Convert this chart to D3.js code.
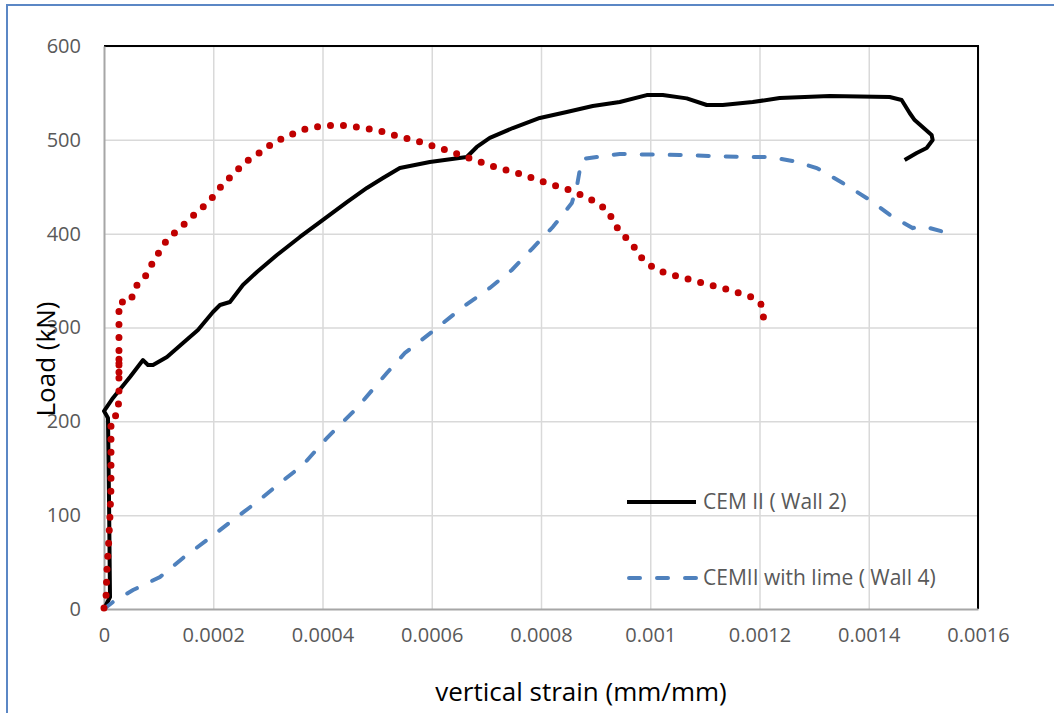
<!DOCTYPE html>
<html>
<head>
<meta charset="utf-8">
<script src="https://cdn.jsdelivr.net/npm/d3@7"></script>
<style>
  body { margin: 0; background: #fff; }
  svg text { font-family: "Open Sans", "Noto Sans", sans-serif; }
</style>
</head>
<body>
<script>
// CEM II ( Wall 2)
var wall2Strain = [0, 0.000011, 0.0000092, 0.0000073, 0, 0.0000165, 0.0000476, 0.0000714, 0.0000805, 0.0000897,
  0.0001153, 0.0001446, 0.000172, 0.0001995, 0.0002123, 0.0002306, 0.0002543, 0.00028, 0.0003166, 0.0003587,
  0.0003953, 0.0004447, 0.0004813, 0.0005100, 0.0005416, 0.0005965, 0.0006642, 0.0006825, 0.0007063, 0.0007484, 0.0007978,
  0.0008472, 0.0008948, 0.0009442, 0.0009936, 0.0010229, 0.0010668, 0.0011034, 0.0011327, 0.0011876, 0.001237,
  0.0013285, 0.0014383, 0.0014602, 0.0014749, 0.001484, 0.0015151, 0.001517, 0.001506, 0.0014877, 0.0014657];
var wall2Load = [0, 12.8, 116, 203.5, 211, 224.9, 247.2, 265.3, 260, 260,
  268.6, 283.5, 297.3, 316.5, 324, 327.2, 345.3, 359.2, 377.3, 396.5,
  412.4, 433.7, 448.7, 459, 470, 476.4, 481.7, 492.4, 502, 512.6, 523.3,
  529.7, 536, 540.3, 547.7, 547.7, 544.2, 537.1, 537.1, 540.3, 544.5,
  546.7, 545.6, 542.4, 528.6, 521.1, 505.2, 499.8, 491.3, 486, 478.5];

// CEMII with lime ( Wall 4)
var wall4Strain = [0, 0.0000165, 0.0000531, 0.0001025, 0.0001446, 0.0001885, 0.0002361, 0.00028, 0.0003221, 0.0003642,
  0.000408, 0.000463, 0.0005178, 0.0005508, 0.0006094, 0.0006569, 0.0007063, 0.0007466, 0.000785, 0.0008216,
  0.0008436, 0.0008564, 0.0008655, 0.000871, 0.0008765, 0.0009021, 0.0009442, 0.001054, 0.0011766, 0.0012187,
  0.0012608, 0.0013047, 0.0013523, 0.0014017, 0.0014437, 0.0014803, 0.0014986, 0.0015444];
var wall4Load = [0, 7.5, 20.2, 34.1, 54.4, 73.5, 94.9, 114, 134.3, 153.5,
  182.2, 214.2, 251.5, 272.8, 299.5, 321.8, 342.1, 361.3, 384.7, 407.1,
  423.1, 432.7, 449.7, 467.9, 479.6, 481.7, 484.9, 483.8, 481.7, 481.7,
  477.4, 470, 454, 435.9, 417.8, 406, 408.1, 400.7];

// third series (red dotted, not in legend)
var redStrain = [0, 0.0000037, 0.0000055, 0.0000086, 0.000011, 0.0000128, 0.0000128, 0.0000128, 0.0000256, 0.0000274,
  0.0000274, 0.0000274, 0.0000274, 0.0000476, 0.0000512, 0.0000567, 0.0000604, 0.0000659, 0.0000787, 0.0000878,
  0.0000988, 0.000108, 0.0001226, 0.0001391, 0.0001574, 0.000172, 0.0001903, 0.0002049, 0.0002104, 0.0002232,
  0.0002397, 0.0002543, 0.0002726, 0.0002928, 0.0003111, 0.000333, 0.0003532, 0.0003751, 0.0004007, 0.0004245,
  0.0004483, 0.0004739, 0.0004995, 0.0005233, 0.0005727, 0.0006203, 0.0006679, 0.0007155, 0.000763, 0.0008106,
  0.0008582, 0.000904, 0.0009241, 0.0009332, 0.0009479, 0.0009662, 0.000979, 0.0009954, 0.0010174, 0.0010412,
  0.0010888, 0.0011382, 0.0011858, 0.0012041, 0.0012077];
var redLoad = [1, 12.8, 42.6, 71.4, 100, 129.6, 172.6, 202.5, 207.8, 230,
  270, 250, 327.2, 327.2, 332.5, 336.8, 345.3, 347.4, 357, 367.7,
  378.3, 388, 397.5, 406, 415.6, 424.2, 432.7, 443.3, 447.6, 456.1,
  464.6, 474.2, 481.7, 489.2, 497.7, 503, 508.4, 512.6, 514.7, 515.8,
  514.7, 512.6, 510.5, 506.2, 498.8, 490.2, 480.6, 471, 463.6, 454,
  445.5, 432.7, 423.1, 411.4, 399.7, 390, 377.3, 367.7, 360.2, 356,
  348.5, 341, 332.5, 324, 309];

var xTicks = [0, 0.0002, 0.0004, 0.0006, 0.0008, 0.001, 0.0012, 0.0014, 0.0016];
var xTickLabels = ["0", "0.0002", "0.0004", "0.0006", "0.0008", "0.001", "0.0012", "0.0014", "0.0016"];
var yTicks = [0, 100, 200, 300, 400, 500, 600];
var legendNames = ["CEM II ( Wall 2)", "CEMII with lime ( Wall 4)"];

var width = 1054, height = 713;
var plotLeft = 104, plotRight = 978, plotTop = 46, plotBottom = 609;

var svg = d3.select("body").append("svg")
    .attr("width", width)
    .attr("height", height);

// outer frame
svg.append("rect")
    .attr("x", 7).attr("y", 5)
    .attr("width", 1060).attr("height", 730)
    .attr("fill", "none")
    .attr("stroke", "#5B87C5")
    .attr("stroke-width", 2);

var x = d3.scaleLinear().domain([0, 0.0016]).range([plotLeft, plotRight]);
var y = d3.scaleLinear().domain([0, 600]).range([plotBottom, plotTop]);

// gridlines
svg.append("g")
    .attr("transform", "translate(0," + plotBottom + ")")
    .call(d3.axisBottom(x).tickValues(xTicks.slice(1)).tickSize(-(plotBottom - plotTop)).tickFormat(""))
    .call(function(g) {
      g.select(".domain").remove();
      g.selectAll("line").attr("stroke", "#d9d9d9").attr("stroke-width", 1.5);
    });
svg.append("g")
    .attr("transform", "translate(" + plotLeft + ",0)")
    .call(d3.axisLeft(y).tickValues(yTicks.slice(1)).tickSize(-(plotRight - plotLeft)).tickFormat(""))
    .call(function(g) {
      g.select(".domain").remove();
      g.selectAll("line").attr("stroke", "#d9d9d9").attr("stroke-width", 1.5);
    });

// plot border: top and right black
svg.append("path")
    .attr("d", "M" + plotLeft + "," + plotTop + "H" + plotRight + "V" + plotBottom)
    .attr("fill", "none")
    .attr("stroke", "#000")
    .attr("stroke-width", 2);

// axes (gray)
var xAxis = svg.append("g")
    .attr("transform", "translate(0," + plotBottom + ")")
    .call(d3.axisBottom(x).tickValues(xTicks).tickSize(0).tickPadding(19)
      .tickFormat(function(d, i) { return xTickLabels[i]; }));
xAxis.select(".domain").attr("stroke", "#a6a6a6").attr("stroke-width", 2);
xAxis.selectAll("text").attr("fill", "#595959").style("font-size", "20px");

var yAxis = svg.append("g")
    .attr("transform", "translate(" + plotLeft + ",0)")
    .call(d3.axisLeft(y).tickValues(yTicks).tickSize(0).tickPadding(23));
yAxis.select(".domain").attr("stroke", "#a6a6a6").attr("stroke-width", 2);
yAxis.selectAll("text").attr("fill", "#595959").style("font-size", "20px");

var lineRaw = d3.line()
    .x(function(d) { return x(d[0]); })
    .y(function(d) { return y(d[1]); });

svg.append("path")
    .datum(d3.zip(wall2Strain, wall2Load))
    .attr("d", lineRaw)
    .attr("fill", "none")
    .attr("stroke", "#000")
    .attr("stroke-width", 4)
    .attr("stroke-linejoin", "round");

svg.append("path")
    .datum(d3.zip(wall4Strain, wall4Load))
    .attr("d", lineRaw)
    .attr("fill", "none")
    .attr("stroke", "#4F81BD")
    .attr("stroke-width", 4)
    .attr("stroke-linecap", "round")
    .attr("stroke-dasharray", "11 17");

svg.append("path")
    .datum(d3.zip(redStrain, redLoad))
    .attr("d", lineRaw)
    .attr("fill", "none")
    .attr("stroke", "#C00000")
    .attr("stroke-width", 7)
    .attr("stroke-linecap", "round")
    .attr("stroke-dasharray", "0 13");

// legend
var legend = svg.append("g");
legend.append("line")
    .attr("x1", 627).attr("x2", 696).attr("y1", 502).attr("y2", 502)
    .attr("stroke", "#000").attr("stroke-width", 4);
legend.append("line")
    .attr("x1", 629).attr("x2", 696).attr("y1", 578).attr("y2", 578)
    .attr("stroke", "#4F81BD").attr("stroke-width", 4)
    .attr("stroke-linecap", "round").attr("stroke-dasharray", "11 17");
legend.selectAll("text")
    .data(legendNames)
    .enter().append("text")
    .attr("x", 703)
    .attr("y", function(d, i) { return i === 0 ? 502 : 578; })
    .attr("dy", "0.35em")
    .attr("fill", "#595959")
    .style("font-size", "21px")
    .text(function(d) { return d; });

// axis titles
svg.append("text")
    .attr("x", 581)
    .attr("y", 701)
    .attr("text-anchor", "middle")
    .attr("fill", "#000")
    .style("font-size", "26px")
    .text("vertical strain (mm/mm)");

svg.append("text")
    .attr("transform", "translate(55,359) rotate(-90)")
    .attr("text-anchor", "middle")
    .attr("fill", "#000")
    .style("font-size", "26px")
    .text("Load (kN)");
</script>
</body>
</html>
